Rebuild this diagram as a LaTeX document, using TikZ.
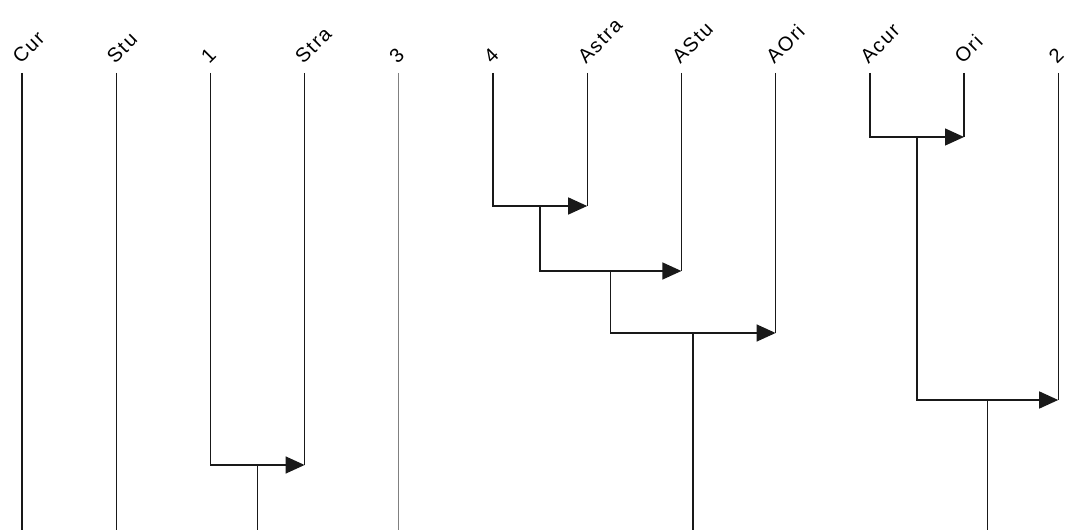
\documentclass[tikz,border=0pt]{standalone}
\usepackage{fontspec}
\newfontfamily\lblfont[LetterSpace=8]{Liberation Sans}
\usetikzlibrary{arrows.meta, positioning, calc}

\begin{document}
\begin{tikzpicture}[
  x=1pt, y=1pt,
  node distance=94.2pt,
  lbl/.style={xshift=-1pt, yshift=8pt, rotate=45, anchor=south west,
              inner sep=0pt, font=\lblfont\fontsize{20}{20}\selectfont},
  branch/.style={line width=1.4pt, draw=black!90},
  faint/.style={line width=1.2pt, draw=black!50},
  arr/.style={branch, -{Triangle[length=19pt, width=17pt]}}
]
  \useasboundingbox (0,0) rectangle (1065,530);

  \coordinate (base) at (0,0);
  \coordinate (cur) at (22,457);
  \coordinate[right=of cur] (stu);
  \coordinate[right=of stu] (one);
  \coordinate[right=of one] (stra);
  \coordinate[right=of stra] (three);
  \coordinate[right=of three] (four);
  \coordinate[right=of four] (astra);
  \coordinate[right=of astra] (astu);
  \coordinate[right=of astu] (aori);
  \coordinate[right=of aori] (acur);
  \coordinate[right=of acur] (ori);
  \coordinate[right=of ori] (two);

  \node[lbl] (tcur) at (cur) {Cur};
  \node[lbl] (tstu) at (stu) {Stu};
  \node[lbl] (tone) at (one) {1};
  \node[lbl] (tstra) at (stra) {Stra};
  \node[lbl] (tthree) at (three) {3};
  \node[lbl] (tfour) at (four) {4};
  \node[lbl] (tastra) at (astra) {Astra};
  \node[lbl] (tastu) at (astu) {AStu};
  \node[lbl] (taori) at (aori) {AOri};
  \node[lbl] (tacur) at (acur) {Acur};
  \node[lbl] (tori) at (ori) {Ori};
  \node[lbl] (ttwo) at (two) {2};

  \draw[branch] (cur) -- (cur |- base);
  \draw[branch] (stu) -- (stu |- base);
  \draw[faint] (three) -- (three |- base);

  \coordinate[below=392pt of stra] (j1);
  \draw[branch] (stra) -- (j1);
  \draw[arr] (one) |- (j1);
  \coordinate (m1) at ($(one |- j1)!0.5!(j1)$);
  \draw[branch] (m1) -- (m1 |- base);

  \coordinate[below=133pt of astra] (j2);
  \draw[branch] (astra) -- (j2);
  \draw[arr] (four) |- (j2);
  \coordinate (m2) at ($(four |- j2)!0.5!(j2)$);

  \coordinate[below=198pt of astu] (j3);
  \draw[branch] (astu) -- (j3);
  \draw[arr] (m2) |- (j3);
  \coordinate (m3) at ($(m2 |- j3)!0.5!(j3)$);

  \coordinate[below=260pt of aori] (j4);
  \draw[branch] (aori) -- (j4);
  \draw[arr] (m3) |- (j4);
  \coordinate (m4) at ($(m3 |- j4)!0.5!(j4)$);
  \draw[branch] (m4) -- (m4 |- base);

  \coordinate[below=64pt of ori] (j5);
  \draw[branch] (ori) -- (j5);
  \draw[arr] (acur) |- (j5);
  \coordinate (m5) at ($(acur |- j5)!0.5!(j5)$);

  \coordinate[below=327pt of two] (j6);
  \draw[branch] (two) -- (j6);
  \draw[arr] (m5) |- (j6);
  \coordinate (m6) at ($(m5 |- j6)!0.5!(j6)$);
  \draw[branch] (m6) -- (m6 |- base);
\end{tikzpicture}
\end{document}
